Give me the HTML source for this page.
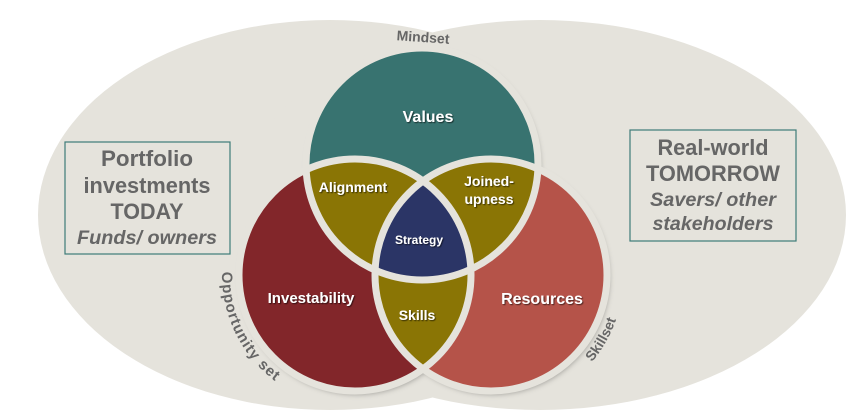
<!DOCTYPE html>
<html><head><meta charset="utf-8"><style>
html,body{margin:0;padding:0;background:#fff;}
svg{display:block;font-family:"Liberation Sans",sans-serif;}
</style></head><body>
<svg width="853" height="415" viewBox="0 0 853 415" xmlns="http://www.w3.org/2000/svg">
<defs>
<clipPath id="cT"><circle cx="422" cy="164" r="116"/></clipPath>
<clipPath id="cL"><circle cx="355" cy="275" r="116"/></clipPath>
<clipPath id="cR"><circle cx="491" cy="275" r="116"/></clipPath>
<filter id="sh" x="-20%" y="-20%" width="140%" height="140%"><feDropShadow dx="2" dy="3" stdDeviation="3" flood-color="#000" flood-opacity="0.35"/></filter>
<filter id="ts"><feDropShadow dx="1" dy="1" stdDeviation="0.6" flood-color="#000" flood-opacity="0.6"/></filter>
<path id="pO" d="M 222 272 A 133 133 0 0 0 310 400" fill="none"/>
<path id="pS" d="M 592 362 A 133 133 0 0 0 623 284" fill="none"/>
</defs>
<ellipse cx="330" cy="215" rx="292" ry="195" fill="#e5e3dc"/>
<ellipse cx="540" cy="215" rx="306" ry="195" fill="#e5e3dc"/>
<g filter="url(#sh)">
<circle cx="422" cy="164" r="116" fill="#37736f"/>
<circle cx="355" cy="275" r="116" fill="#82282a"/>
<circle cx="491" cy="275" r="116" fill="#b5524a"/>
</g>
<g clip-path="url(#cT)"><circle cx="355" cy="275" r="116" fill="#8a7505"/><circle cx="491" cy="275" r="116" fill="#8a7505"/></g>
<g clip-path="url(#cL)"><circle cx="491" cy="275" r="116" fill="#8a7505"/></g>
<g clip-path="url(#cT)"><g clip-path="url(#cL)"><circle cx="491" cy="275" r="116" fill="#2b3566"/></g></g>
<g fill="none" stroke="#e5e3dc" stroke-width="7">
<circle cx="422" cy="164" r="116"/>
<circle cx="355" cy="275" r="116"/>
<circle cx="491" cy="275" r="116"/>
</g>
<g fill="#fff" font-weight="bold" text-anchor="middle" filter="url(#ts)">
<text x="428" y="122" font-size="16">Values</text>
<text x="353" y="192" font-size="14">Alignment</text>
<text x="489" y="186" font-size="14">Joined-</text>
<text x="489" y="204" font-size="14">upness</text>
<text x="419" y="244" font-size="12">Strategy</text>
<text x="311" y="303" font-size="15">Investability</text>
<text x="417" y="320" font-size="14">Skills</text>
<text x="542" y="304" font-size="16">Resources</text>
</g>
<g fill="#666" font-weight="bold" font-size="14">
<text x="423" y="42" text-anchor="middle" transform="rotate(4 423 38)">Mindset</text>
<text font-size="15" letter-spacing="1"><textPath href="#pO">Opportunity set</textPath></text>
<text><textPath href="#pS">Skillset</textPath></text>
</g>
<rect x="65" y="142" width="165" height="112" fill="none" stroke="#3e7c78" stroke-width="1.2"/>
<rect x="630" y="130" width="166" height="111" fill="none" stroke="#3e7c78" stroke-width="1.2"/>
<g fill="#666" font-weight="bold" font-size="22" text-anchor="middle">
<text x="147" y="166" textLength="92" lengthAdjust="spacingAndGlyphs">Portfolio</text>
<text x="147" y="193" textLength="127" lengthAdjust="spacingAndGlyphs">investments</text>
<text x="147" y="219" textLength="73" lengthAdjust="spacingAndGlyphs">TODAY</text>
<text x="147" y="244" font-style="italic" font-size="19" textLength="140" lengthAdjust="spacingAndGlyphs">Funds/ owners</text>
<text x="713" y="155" textLength="111" lengthAdjust="spacingAndGlyphs">Real-world</text>
<text x="713" y="181" textLength="134" lengthAdjust="spacingAndGlyphs">TOMORROW</text>
<text x="713" y="206" font-style="italic" font-size="19" textLength="126" lengthAdjust="spacingAndGlyphs">Savers/ other</text>
<text x="713" y="230" font-style="italic" font-size="19" textLength="121" lengthAdjust="spacingAndGlyphs">stakeholders</text>
</g>
</svg>
</body></html>
